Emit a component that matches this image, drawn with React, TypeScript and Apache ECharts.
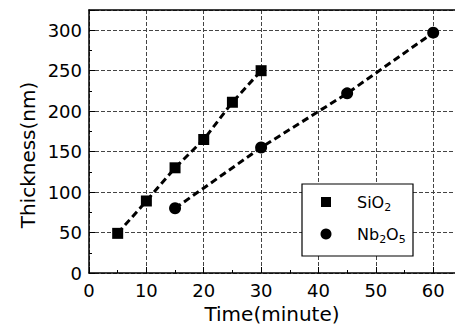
import React, { useEffect, useRef } from "react";
import * as echarts from "echarts";

const sio2Time = [5, 10, 15, 20, 25, 30];
const sio2Thickness = [49, 89, 130, 165, 211, 250];
const nbTime = [15, 30, 45, 60];
const nbThickness = [80, 155, 222, 297];
const xTicks = [0, 10, 20, 30, 40, 50, 60];
const yTicks = [0, 50, 100, 150, 200, 250, 300];

const FONT = "DejaVu Sans";

export default function App() {
  const ref = useRef<HTMLDivElement>(null);
  useEffect(() => {
    if (!ref.current) return;
    const chart = echarts.init(ref.current, null, { renderer: "svg" });
    const split = { show: true, lineStyle: { color: "#444", width: 1, type: [4, 2] } };
    chart.setOption({
      animation: false,
      backgroundColor: "#fff",
      grid: {
        left: 89,
        top: 10,
        right: 0,
        bottom: 57,
        show: false,
      },
      xAxis: [
        {
          type: "value",
          min: 0,
          max: 63.8,
          interval: 10,
          name: "Time(minute)",
          nameLocation: "middle",
          nameGap: 31,
          nameTextStyle: { fontFamily: FONT, fontSize: 20, color: "#000" },
          axisLine: { show: true, onZero: false, lineStyle: { color: "#000", width: 1.5 } },
          axisTick: { show: true, inside: true, length: 6, lineStyle: { color: "#000" } },
          minorTick: { show: true, splitNumber: 2, length: 3, lineStyle: { color: "#000" } },
          axisLabel: {
            show: true,
            showMaxLabel: false,
            margin: 8,
            fontFamily: FONT,
            fontSize: 18,
            color: "#000",
            formatter: (v: number) => (xTicks.includes(v) ? String(v) : ""),
          },
          splitLine: split,
        },
        {
          type: "value",
          position: "top",
          min: 0,
          max: 63.8,
          interval: 10,
          axisLine: { show: true, onZero: false, lineStyle: { color: "#000", width: 1.5 } },
          axisTick: { show: false },
          axisLabel: { show: false },
          splitLine: { show: false },
        },
      ],
      yAxis: {
        type: "value",
        min: 0,
        max: 325,
        interval: 50,
        axisLine: { show: true, onZero: false, lineStyle: { color: "#000", width: 1.5 } },
        axisTick: { show: true, inside: true, length: 6, lineStyle: { color: "#000" } },
        minorTick: { show: true, splitNumber: 2, length: 3, lineStyle: { color: "#000" } },
        axisLabel: {
          show: true,
          showMaxLabel: false,
          margin: 7,
          fontFamily: FONT,
          fontSize: 18,
          color: "#000",
          formatter: (v: number) => (yTicks.includes(v) ? String(v) : ""),
        },
        splitLine: split,
      },
      series: [
        {
          name: "SiO2",
          type: "line",
          data: sio2Time.map((t, i) => [t, sio2Thickness[i]]),
          symbol: "rect",
          symbolSize: 11,
          showSymbol: true,
          itemStyle: { color: "#000" },
          lineStyle: { color: "#000", width: 3, type: [7, 4] },
          z: 5,
        },
        {
          name: "Nb2O5",
          type: "line",
          data: nbTime.map((t, i) => [t, nbThickness[i]]),
          symbol: "circle",
          symbolSize: 12,
          showSymbol: true,
          itemStyle: { color: "#000" },
          lineStyle: { color: "#000", width: 3, type: [7, 4] },
          z: 5,
        },
      ],
      graphic: [
        {
          type: "text",
          x: 28,
          y: 155,
          rotation: Math.PI / 2,
          style: {
            text: "Thickness(nm)",
            fontFamily: FONT,
            fontSize: 20,
            fill: "#000",
            align: "center",
            verticalAlign: "middle",
          },
        },
        {
          type: "rect",
          shape: { x: 302, y: 184, width: 111, height: 72 },
          style: { fill: "#fff", stroke: "#000", lineWidth: 1.2 },
          z: 10,
        },
        {
          type: "rect",
          shape: { x: 321, y: 197, width: 10, height: 10 },
          style: { fill: "#000" },
          z: 11,
        },
        {
          type: "circle",
          shape: { cx: 326, cy: 234, r: 5.5 },
          style: { fill: "#000" },
          z: 11,
        },
        {
          type: "text",
          x: 357,
          y: 202,
          z: 11,
          style: {
            text: "{a|SiO}{b|2}",
            verticalAlign: "middle",
            rich: {
              a: { fontFamily: FONT, fontSize: 16, fill: "#000", lineHeight: 20 },
              b: { fontFamily: FONT, fontSize: 11, fill: "#000", lineHeight: 20, padding: [10, 0, 0, 0] },
            },
          },
        },
        {
          type: "text",
          x: 357,
          y: 234,
          z: 11,
          style: {
            text: "{a|Nb}{b|2}{a|O}{b|5}",
            verticalAlign: "middle",
            rich: {
              a: { fontFamily: FONT, fontSize: 16, fill: "#000", lineHeight: 20 },
              b: { fontFamily: FONT, fontSize: 11, fill: "#000", lineHeight: 20, padding: [10, 0, 0, 0] },
            },
          },
        },
      ],
    });
    return () => chart.dispose();
  }, []);
  return (
    <div
      ref={ref}
      style={{ position: "absolute", left: 0, top: 0, width: 455, height: 330, overflow: "hidden" }}
    />
  );
}
